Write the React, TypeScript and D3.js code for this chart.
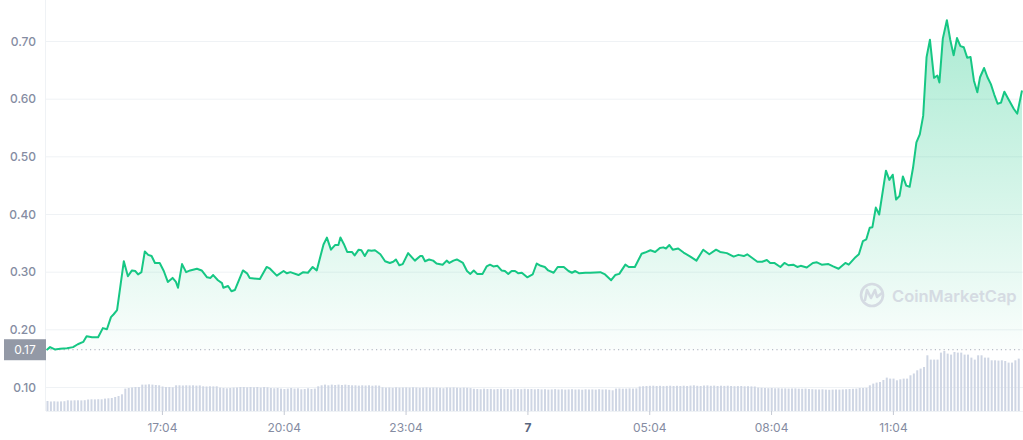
import React from 'react';
import * as d3 from 'd3';

// price points: [minutes since 14:12, price]
const priceData: [number, number][] = [
  [1, 0.165], [6, 0.170], [13, 0.166], [21, 0.167], [31, 0.168], [40, 0.170], [47, 0.175], [55, 0.179],
  [60, 0.189], [68, 0.187], [77, 0.187], [84, 0.203], [90, 0.201], [96, 0.222], [100, 0.227], [105, 0.234],
  [115, 0.319], [121, 0.293], [127, 0.303], [132, 0.302], [136, 0.296], [141, 0.300], [146, 0.336], [151, 0.330],
  [156, 0.328], [161, 0.316], [168, 0.316], [174, 0.302], [180, 0.283], [187, 0.290], [192, 0.283], [195, 0.273],
  [201, 0.314], [207, 0.300], [213, 0.303], [223, 0.306], [230, 0.303], [238, 0.291], [243, 0.290], [247, 0.295],
  [254, 0.286], [260, 0.281], [262, 0.273], [269, 0.276], [274, 0.267], [279, 0.269], [291, 0.303], [297, 0.298],
  [301, 0.290], [316, 0.288], [326, 0.309], [331, 0.306], [341, 0.294], [351, 0.302], [356, 0.298], [361, 0.300],
  [373, 0.295], [380, 0.300], [387, 0.299], [394, 0.309], [400, 0.303], [410, 0.348], [415, 0.360], [421, 0.339],
  [427, 0.347], [432, 0.347], [435, 0.360], [440, 0.349], [445, 0.335], [452, 0.335], [456, 0.329], [462, 0.339],
  [466, 0.338], [471, 0.328], [476, 0.338], [481, 0.337], [486, 0.338], [494, 0.331], [501, 0.319], [508, 0.316],
  [513, 0.318], [517, 0.322], [522, 0.312], [527, 0.314], [535, 0.333], [545, 0.320], [553, 0.328], [556, 0.328],
  [560, 0.319], [566, 0.322], [572, 0.320], [577, 0.315], [586, 0.313], [592, 0.320], [596, 0.316], [602, 0.320],
  [607, 0.322], [616, 0.316], [622, 0.302], [627, 0.297], [632, 0.303], [637, 0.297], [645, 0.297], [651, 0.310],
  [656, 0.313], [661, 0.310], [667, 0.311], [673, 0.303], [678, 0.302], [683, 0.297], [688, 0.302], [693, 0.302],
  [698, 0.298], [703, 0.299], [711, 0.291], [719, 0.296], [725, 0.315], [731, 0.311], [737, 0.309], [742, 0.303],
  [750, 0.299], [756, 0.309], [765, 0.309], [772, 0.302], [777, 0.299], [782, 0.302], [788, 0.298], [797, 0.299],
  [804, 0.299], [819, 0.300], [826, 0.296], [835, 0.286], [841, 0.295], [847, 0.297], [856, 0.313], [861, 0.309],
  [870, 0.309], [880, 0.332], [885, 0.334], [893, 0.338], [900, 0.335], [907, 0.342], [912, 0.343], [916, 0.341],
  [921, 0.347], [926, 0.339], [934, 0.341], [942, 0.334], [952, 0.327], [961, 0.320], [971, 0.339], [980, 0.331],
  [990, 0.339], [996, 0.335], [1006, 0.333], [1016, 0.327], [1023, 0.330], [1031, 0.328], [1036, 0.331], [1043, 0.325],
  [1051, 0.318], [1058, 0.318], [1065, 0.321], [1070, 0.316], [1076, 0.316], [1085, 0.309], [1091, 0.316], [1097, 0.312],
  [1104, 0.313], [1110, 0.309], [1115, 0.311], [1124, 0.308], [1133, 0.316], [1139, 0.317], [1146, 0.313], [1156, 0.314],
  [1163, 0.310], [1171, 0.306], [1181, 0.316], [1186, 0.313], [1196, 0.326], [1201, 0.331], [1207, 0.354], [1212, 0.357],
  [1217, 0.377], [1221, 0.378], [1226, 0.412], [1231, 0.400], [1241, 0.476], [1246, 0.460], [1251, 0.469], [1256, 0.426],
  [1261, 0.432], [1266, 0.466], [1271, 0.450], [1276, 0.448], [1281, 0.481], [1286, 0.525], [1291, 0.539], [1296, 0.571],
  [1301, 0.673], [1306, 0.703], [1312, 0.637], [1317, 0.641], [1320, 0.629], [1325, 0.705], [1331, 0.737], [1336, 0.703],
  [1341, 0.676], [1346, 0.706], [1351, 0.692], [1356, 0.690], [1361, 0.672], [1366, 0.673], [1371, 0.632], [1376, 0.612],
  [1380, 0.638], [1386, 0.654], [1391, 0.638], [1396, 0.626], [1401, 0.608], [1406, 0.592], [1411, 0.594], [1416, 0.613],
  [1422, 0.600], [1430, 0.583], [1435, 0.575], [1442, 0.615],
];

// 5-minute volume bars
const volumes: number[] = [
  10, 9.5, 9.7, 9.5, 9.6, 9.8,
  10.7, 10.5, 10.7, 10.7, 10.6, 10.8,
  11.5, 11.7, 11.6, 11.8, 11.7,
  12.4, 12.7, 13, 14, 15, 16.7,
  22.4, 23, 23.5, 24, 24,
  26.4, 26.4, 26.7, 26.4, 26, 25.7,
  24.5, 24, 24, 23.7, 25.7,
  25.7, 25.5, 25.7, 25.6, 25.7, 25.4, 25.6,
  24.7, 24.5, 24.7, 24.6, 24.7,
  23.4, 23, 22.7, 23, 23.4,
  23.5, 24, 24, 23.7, 24, 23.7, 24, 23.4, 24,
  23.7, 23, 22.7, 23, 22.4, 22, 22.4, 23, 22.4, 22.7,
  21.7, 22, 22.7, 22, 22.4,
  24.7, 25.7, 26.4, 25.7, 26.4, 26, 26.4,
  26, 26.4, 26, 25.7, 25.7, 25.4, 25.7, 25.5, 25.7, 25.3, 25.6, 25.4,
  23.7, 23.4, 23.5, 23.2, 23.7, 23.4, 23.5, 23.6,
  23.4, 23.7, 23.5, 23.2, 23.4, 23.6, 23.3, 23.5, 23.4, 23.2, 22.8, 23.5, 23.4, 23.6, 23.3, 23.1, 23.4, 23.2, 22.9,
  22.2, 22, 21.8, 22.3, 22, 22.1, 21.7, 22, 22.2, 21.9, 22, 21.6, 22.1, 22, 21.8, 22.2, 21.9, 22, 21.7, 22,
  21.6, 21.8, 21.4, 21.6, 21.9, 21.5, 21.7, 21.4, 21.6, 21.8, 21.5, 21.6, 21.3, 21.7, 21.5, 21.6, 21.4, 21.8, 21.5, 21.6, 21.2, 20.7,
  22.4, 22.5, 22.3, 22.4, 22.6, 22.4, 22.6,
  24.5, 24.8, 25, 25.2, 25.3, 25, 25.2, 24.9, 25.1, 25.3, 25, 25.2,
  25, 25.3, 25, 25.4, 25.7, 25.2, 25, 25.5, 25.6, 25.2, 25.4, 25, 25.3, 25.1, 25.3, 25, 24.8, 24.9, 25, 24.7, 24.8, 24.6, 24.5,
  23.4, 23.2, 23, 22.8, 23, 22.7, 22.8, 22.5, 22.6, 22.4, 22.5, 22.6, 22.3, 22.2, 22.4, 22, 21.8, 21.6, 21.5, 21.7, 21.4, 21.2, 21.4, 21.5,
  21.4, 21.6, 21.8, 22, 22.2, 22.4,
  23, 23, 23.2,
  25.7, 27.4, 28.4, 29,
  31, 33.4, 32.4, 32.4,
  30.7, 31.7, 32.4, 32.4, 35.7, 37.5,
  40.7, 42.4, 44, 55.7,
  51.4, 51.4, 51.4, 58.4, 60, 57.4, 56.4, 59, 58.4, 58.4, 56.4, 56.4,
  53.4, 51.4, 55.7, 55.7, 53.4, 53.4, 50.7, 50.7, 50.4, 50.7, 50, 48.4, 48.4, 50.7, 52.4,
];

const yTicks = [0.1, 0.2, 0.3, 0.4, 0.5, 0.6, 0.7];
const xTickMinutes = [172, 352, 532, 712, 892, 1072, 1252];
const xTickLabels = ['17:04', '20:04', '23:04', '7', '05:04', '08:04', '11:04'];
const openPrice = 0.1655;

const W = 1023;
const H = 440;
const left = 46;
const right = 1022;
const FONT = 'Inter, "Noto Sans", sans-serif';

export default function App() {
  const x = d3.scaleLinear().domain([0, 1442]).range([left, right]);
  const y = d3.scaleLinear().domain([0.1, 0.7]).range([387.5, 41.5]);
  const yVol = d3.scaleLinear().domain([0, 62]).range([411, 349]);

  const baseY = y(openPrice);
  const line = d3.line<[number, number]>()
    .x(d => x(d[0]))
    .y(d => y(d[1]));
  const area = d3.area<[number, number]>()
    .x(d => x(d[0]))
    .y0(baseY)
    .y1(d => y(d[1]));

  return (
    <svg width={W} height={H} style={{ position: 'absolute', left: 0, top: 0, background: '#fff' }}>
      <defs>
        <linearGradient id="areaFill" x1="0" y1="0" x2="0" y2="1" gradientUnits="userSpaceOnUse"
          gradientTransform={`translate(0,${y(0.74)}) scale(1,${baseY - y(0.74)})`}>
          <stop offset="0" stopColor="#16c784" stopOpacity={0.36} />
          <stop offset="1" stopColor="#16c784" stopOpacity={0.02} />
        </linearGradient>
      </defs>

      {yTicks.map(t => (
        <g key={t}>
          <line x1={left} x2={W} y1={y(t)} y2={y(t)} stroke="#eff2f5" strokeWidth={1} />
          <text x={36} y={y(t)} dy="0.35em" textAnchor="end" fontFamily={FONT} fontSize={12}
            fontWeight={500} fill="#858ca2">{t.toFixed(2)}</text>
        </g>
      ))}
      <line x1={left - 0.5} x2={left - 0.5} y1={0} y2={411} stroke="#eff2f5" />
      <line x1={left} x2={W} y1={411.5} y2={411.5} stroke="#eff2f5" />

      {volumes.map((v, i) => (
        <rect key={i} x={x(i * 5) + 0.5} y={yVol(v)} width={2} height={yVol(0) - yVol(v)} fill="#cfd6e4" />
      ))}

      <path d={area(priceData) || ''} fill="url(#areaFill)" />

      <g opacity={0.9}>
        <circle cx={872} cy={295} r={11} fill="none" stroke="#d3d8e1" strokeWidth={2.6} />
        <path d="M865,300 L867,290 L871,298 L875,290 L877,297 L882,293" fill="none" stroke="#d3d8e1" strokeWidth={2.6}
          strokeLinejoin="round" strokeLinecap="round" />
        <text x={892} y={301.5} fontFamily={FONT} fontSize={16.5} fontWeight={600} fill="#d3d8e1">CoinMarketCap</text>
      </g>

      <line x1={left} x2={W} y1={baseY} y2={baseY} stroke="#a6acb9" strokeWidth={1} strokeDasharray="1.2,3.2" />

      <path d={line(priceData) || ''} fill="none" stroke="#16c784" strokeWidth={2} strokeLinejoin="round" />

      <rect x={4} y={baseY - 10.5} width={42} height={21} fill="#9399a6" />
      <text x={25} y={baseY} dy="0.35em" textAnchor="middle" fontFamily={FONT} fontSize={12} fill="#fff">
        {openPrice.toFixed(2)}
      </text>

      {xTickMinutes.map((m, i) => (
        <g key={m}>
          <line x1={x(m)} x2={x(m)} y1={411} y2={415} stroke="#c4c9d3" />
          <text x={x(m)} y={432} textAnchor="middle" fontFamily={FONT} fontSize={12}
            fontWeight={xTickLabels[i] === '7' ? 700 : 400}
            fill={xTickLabels[i] === '7' ? '#58667e' : '#858ca2'}>{xTickLabels[i]}</text>
        </g>
      ))}
    </svg>
  );
}
